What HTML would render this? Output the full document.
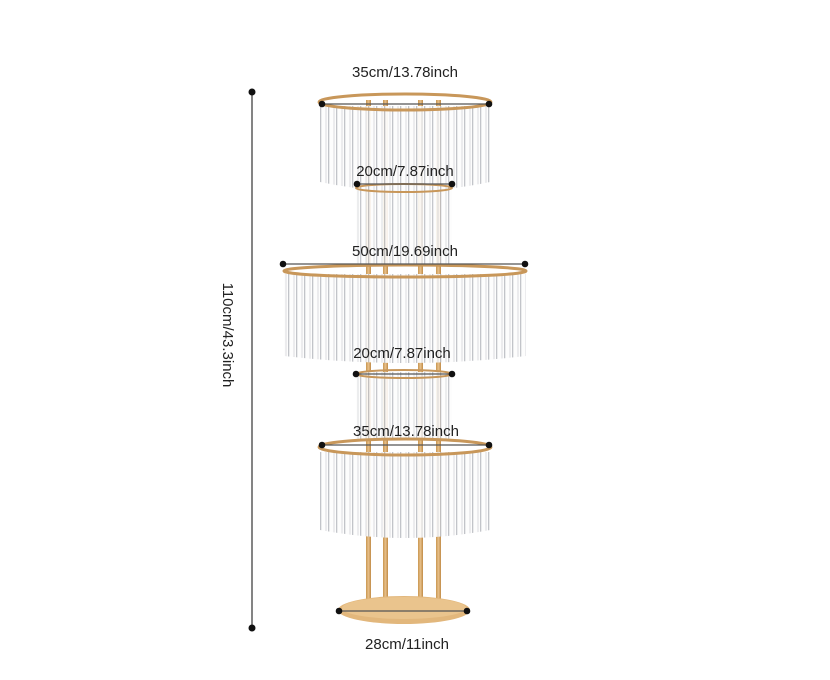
<!DOCTYPE html>
<html><head><meta charset="utf-8"><style>
html,body{margin:0;padding:0;background:#fff;width:830px;height:680px;overflow:hidden}
svg text{font-family:"Liberation Sans",sans-serif;fill:#222}
</style></head><body>
<svg width="830" height="680" viewBox="0 0 830 680" xmlns="http://www.w3.org/2000/svg">
<defs>
<pattern id="cr" width="8" height="10" patternUnits="userSpaceOnUse">
<rect width="8" height="10" fill="#fdfdfd"/>
<rect x="0" width="1.3" height="10" fill="#bfc1c6"/>
<rect x="5.5" width="1" height="10" fill="#d8d9dd"/>
</pattern>
<linearGradient id="g" x1="0" x2="1"><stop offset="0" stop-color="#c9964f"/><stop offset=".5" stop-color="#e7c08a"/><stop offset="1" stop-color="#c08a45"/></linearGradient>
</defs>
<line x1="252" y1="92" x2="252" y2="628" stroke="#333" stroke-width="1.2"/>
<circle cx="252" cy="92" r="3.5" fill="#111"/><circle cx="252" cy="628" r="3.5" fill="#111"/>
<text x="228" y="335" font-size="15" text-anchor="middle" transform="rotate(90 228 335)" dy="5">110cm/43.3inch</text>

<g fill="url(#g)">
<rect x="366" y="100" width="5" height="505"/><rect x="383" y="100" width="5" height="505"/>
<rect x="418" y="100" width="5" height="505"/><rect x="436" y="100" width="5" height="505"/>
</g>

<path d="M320 106 L320 182 Q405 200 490 182 L490 106 Z" fill="url(#cr)" opacity=".95"/>
<ellipse cx="405" cy="102" rx="86" ry="8" fill="none" stroke="#c8975a" stroke-width="3"/>
<rect x="356" y="186" width="96" height="78" fill="url(#cr)" opacity=".9"/>
<ellipse cx="404" cy="188" rx="48" ry="4" fill="none" stroke="#c8975a" stroke-width="2"/>
<path d="M284 274 L284 356 Q405 370 526 356 L526 274 Z" fill="url(#cr)" opacity=".95"/>
<ellipse cx="405" cy="271" rx="121" ry="6" fill="none" stroke="#c8975a" stroke-width="3"/>
<rect x="356" y="372" width="96" height="68" fill="url(#cr)" opacity=".9"/>
<ellipse cx="404" cy="374" rx="48" ry="4" fill="none" stroke="#c8975a" stroke-width="2"/>
<path d="M320 452 L320 530 Q405 546 490 530 L490 452 Z" fill="url(#cr)" opacity=".95"/>
<ellipse cx="405" cy="447" rx="86" ry="8" fill="none" stroke="#c8975a" stroke-width="3"/>
<g fill="url(#g)">
<rect x="366" y="540" width="5" height="66"/><rect x="383" y="540" width="5" height="66"/>
<rect x="418" y="540" width="5" height="66"/><rect x="436" y="540" width="5" height="66"/>
</g>
<ellipse cx="404" cy="610" rx="66" ry="14" fill="#e2b77c"/>
<ellipse cx="404" cy="608" rx="62" ry="11" fill="#eac48d"/>

<g stroke="#555" stroke-width="1.3">
<line x1="322" y1="104" x2="489" y2="104"/>
<line x1="357" y1="184" x2="452" y2="184"/>
<line x1="283" y1="264" x2="525" y2="264"/>
<line x1="356" y1="374" x2="452" y2="374"/>
<line x1="322" y1="445" x2="489" y2="445"/>
<line x1="339" y1="611" x2="467" y2="611"/>
</g>
<g fill="#111">
<circle cx="322" cy="104" r="3.3"/><circle cx="489" cy="104" r="3.3"/>
<circle cx="357" cy="184" r="3.3"/><circle cx="452" cy="184" r="3.3"/>
<circle cx="283" cy="264" r="3.3"/><circle cx="525" cy="264" r="3.3"/>
<circle cx="356" cy="374" r="3.3"/><circle cx="452" cy="374" r="3.3"/>
<circle cx="322" cy="445" r="3.3"/><circle cx="489" cy="445" r="3.3"/>
<circle cx="339" cy="611" r="3.3"/><circle cx="467" cy="611" r="3.3"/>
</g>
<g font-size="15" text-anchor="middle">
<text x="405" y="77">35cm/13.78inch</text>
<text x="405" y="176">20cm/7.87inch</text>
<text x="405" y="256">50cm/19.69inch</text>
<text x="402" y="358">20cm/7.87inch</text>
<text x="406" y="436">35cm/13.78inch</text>
<text x="407" y="649">28cm/11inch</text>
</g>
</svg>
</body></html>
